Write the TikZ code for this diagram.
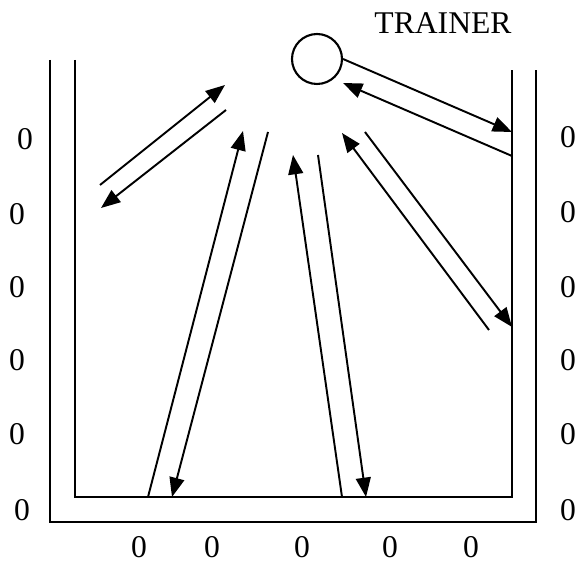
\documentclass[tikz,border=0pt]{standalone}
\usepackage{fontspec}
\setmainfont{Liberation Serif}
\usetikzlibrary{arrows.meta}

\begin{document}
\begin{tikzpicture}[
  x=0.02cm, y=-0.02cm,
  every node/.style={font=\fontsize{18}{20}\selectfont, inner sep=0pt},
  wall/.style={line width=1.2pt},
  arr/.style={-{Triangle[length=11pt,width=8.5pt]}, line width=1.1pt},
  ballst/.style={circle, draw, line width=1.2pt, minimum size=1cm},
]
\useasboundingbox (0,0) rectangle (579,563);

% walls
\draw[wall] (50,60) |- (536,522) -- (536,70);
\draw[wall] (75,60) |- (512,497) -- (512,70);

% trainer and ball
\node[ballst] (ball) at (317,59) {};
\node (trainer) at (443,23) {TRAINER};

% labels
\foreach \y/\x [count=\i] in {139/25, 214/17, 287/17, 360/17, 434/17, 510/22}
  \node (left\i) at (\x,\y) {0};
\foreach \y [count=\i] in {137, 212, 287, 360, 434, 510}
  \node (right\i) at (568,\y) {0};
\foreach \x [count=\i] in {139, 212, 302, 390, 471}
  \node (bottom\i) at (\x,547) {0};

% end points of the passes
\coordinate (rw1) at (512,132);
\coordinate (rw2) at (512,156);
\coordinate (bt1) at (343,83);
\coordinate (la) at (100,185);
\coordinate (lb) at (225,85);
\coordinate (lc) at (226,110);
\coordinate (ld) at (101,208);
\coordinate (fa) at (148,497);
\coordinate (fb) at (243,131);
\coordinate (fc) at (268,132);
\coordinate (fd) at (172,497);
\coordinate (ma) at (342,497);
\coordinate (mb) at (293,155);
\coordinate (mc) at (318,155);
\coordinate (md) at (366,497);
\coordinate (ra) at (489,330);
\coordinate (rb) at (342,133);
\coordinate (rc) at (365,132);
\coordinate (rd) at (512,327);

% passes
\draw[arr] (ball.east) -- (rw1);
\draw[arr] (rw2) -- (bt1);
\draw[arr] (la) -- (lb);
\draw[arr] (lc) -- (ld);
\draw[arr] (fa) -- (fb);
\draw[arr] (fc) -- (fd);
\draw[arr] (ma) -- (mb);
\draw[arr] (mc) -- (md);
\draw[arr] (ra) -- (rb);
\draw[arr] (rc) -- (rd);

\end{tikzpicture}
\end{document}
